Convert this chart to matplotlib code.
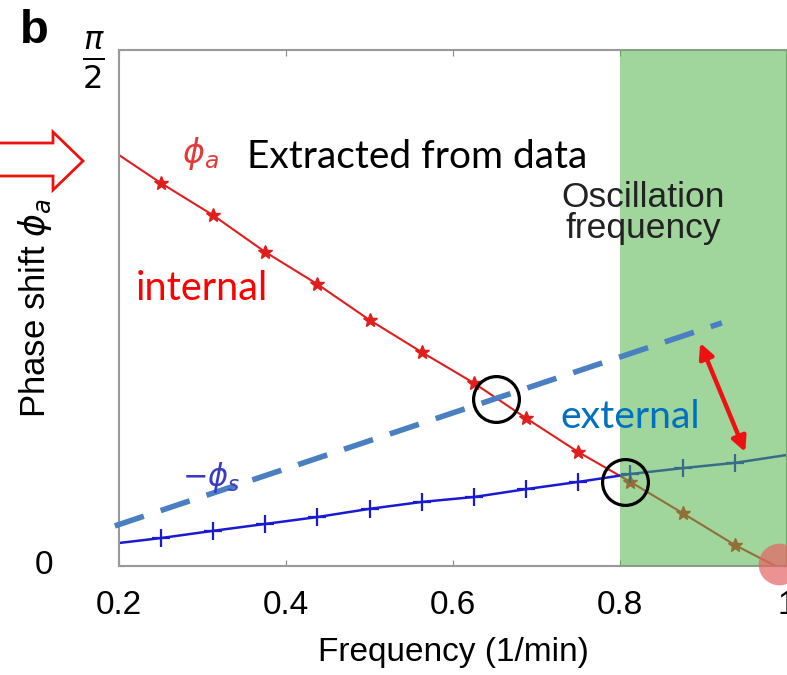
import matplotlib.pyplot as plt
import matplotlib.patches as mpatches
import numpy as np

# frequency (1/min) of the computed points, first and last are line ends only
freq = [0.2, 0.25, 0.3125, 0.375, 0.4375, 0.5, 0.5625, 0.625, 0.6875, 0.75, 0.8125, 0.875, 0.9375, 1.0]
# internal phase shift phi_a (rad)
phi_a = [1.251, 1.166, 1.068, 0.956, 0.858, 0.749, 0.651, 0.557, 0.450, 0.347, 0.256, 0.161, 0.064, -0.018]
# external phase shift -phi_s (rad)
phi_s = [0.070, 0.085, 0.107, 0.128, 0.149, 0.174, 0.195, 0.210, 0.234, 0.256, 0.280, 0.298, 0.314, 0.338]

# hand drawn annotations (data coords)
guide_x = [0.195, 0.922]
guide_y = [0.122, 0.740]
circle_x = [0.651, 0.806]
circle_y = [0.508, 0.256]
arrow_top = (0.896, 0.679)
arrow_bot = (0.95, 0.347)
band = (0.8, 1.0)
x_ticks = [0.2, 0.4, 0.6, 0.8, 1.0]
x_labels = ['0.2', '0.4', '0.6', '0.8', '1']

W, H = 787, 675
fig = plt.figure(figsize=(W/100, H/100), dpi=100)
ax = fig.add_axes([119/W, 1-566/H, (787-119)/W, (566-50)/H])

helv = 'Liberation Sans'
cal = 'Lato'

ax.plot(freq, phi_a, color='#e01e1e', lw=1.5, marker='*', ms=10, markevery=slice(1, -1), zorder=2)
ax.plot(freq, phi_s, color='#1a1ad2', lw=1.8, marker='+', ms=13, mew=1.6, markevery=slice(1, -1), zorder=2)

# green oscillation band over the curves
ax.axvspan(band[0], band[1], color=(0.32, 0.70, 0.29), alpha=0.55, lw=0, zorder=3)

ax.plot(guide_x, guide_y, color='#4a7fc1', lw=4, dashes=(5.5, 3.2), clip_on=False, zorder=4)
ax.plot(circle_x, circle_y, 'o', ms=33, mfc='none', mec='black', mew=2.3, zorder=5)
ax.plot([0.99], [0.006], 'o', ms=30, color='#e66464', alpha=0.7, mew=0, clip_on=False, zorder=6)
ax.annotate('', xy=arrow_bot, xytext=arrow_top,
            arrowprops=dict(arrowstyle='<|-|>', color='#ee1111', lw=3.2, mutation_scale=22,
                            shrinkA=0, shrinkB=0), zorder=6)

ax.set_xlim(0.2, 1.0)
ax.set_ylim(0, np.pi/2)
ax.set_xticks(x_ticks, x_labels, fontfamily=helv, fontsize=24)
ax.set_yticks([0, np.pi/2], ['', r'$\frac{\pi}{2}$'], fontsize=33)
ax.tick_params(axis='x', direction='in', top=True, length=4, color='#888888', pad=17)
ax.tick_params(axis='y', direction='in', right=True, length=4, color='#888888', pad=10)
for s in ax.spines.values():
    s.set_color('#999999')
    s.set_linewidth(1.5)
ax.text(-0.112, 0.0, '0', transform=ax.transAxes, fontfamily=helv, fontsize=24,
        ha='center', va='center')

ax.set_xlabel('Frequency (1/min)', fontfamily=helv, fontsize=24, labelpad=12)
ax.set_ylabel(r'Phase shift $\phi_a$', fontfamily=helv, fontsize=25)
ax.yaxis.set_label_coords(-0.097, 0.5)

ax.text(0.2756, 1.257, r'$\phi_a$', color='#e23a3a', fontsize=24, ha='left', va='center', zorder=7)
ax.text(0.3536, 1.2115, 'Extracted from data', color='black', fontfamily=cal, fontsize=28, va='baseline', zorder=7)
ax.text(0.2204, 0.8097, 'internal', color='#ff0000', fontfamily=cal, fontsize=28.5, va='baseline', zorder=7)
ax.text(0.728, 0.420, 'external', color='#0070c0', fontfamily=cal, fontsize=28.2, va='baseline', zorder=7)
ax.text(0.8276, 0.998, 'Oscillation\nfrequency', color='#222222', fontfamily=helv, fontsize=25.5,
        ha='center', va='baseline', linespacing=0.94, zorder=7)
ax.text(0.2756, 0.268, r'$-\phi_s$', color='#3a3ac4', fontsize=22, ha='left', va='center', zorder=7)

fig.text(20/W, 1-43/H, 'b', fontfamily=helv, fontweight='bold', fontsize=34, va='baseline')

# hollow pointer arrow on the left margin (pixel outline)
pts = [(-10, 143), (53, 143), (53, 132), (83, 161), (53, 190), (53, 176), (-10, 176)]
arrow = mpatches.Polygon([(x/W, 1-y/H) for x, y in pts], closed=True, facecolor='white',
                         edgecolor='#ee1111', lw=2.0, transform=fig.transFigure, clip_on=False)
fig.add_artist(arrow)

fig.savefig('out.png', dpi=100)
